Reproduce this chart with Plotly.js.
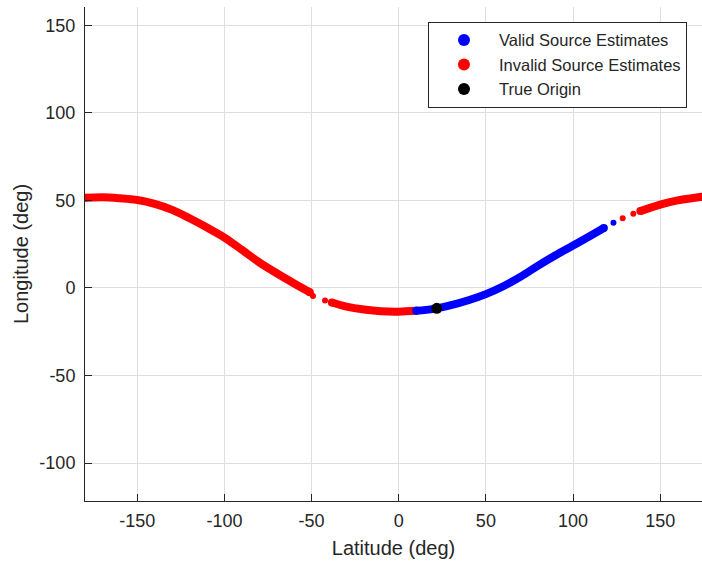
<!DOCTYPE html>
<html>
<head>
<meta charset="utf-8">
<script src="https://cdn.plot.ly/plotly-3.0.1.min.js"></script>
<style>
  html, body { margin: 0; padding: 0; background: #ffffff; }
  #chart { width: 702px; height: 563px; }
</style>
</head>
<body>
<div id="chart"></div>
<script>
// Dense invalid estimates, western branch (lat, lon in deg)
const redWestX = [-180, -170, -160, -150, -140, -130, -120, -110, -100, -90, -80, -70, -60, -51];
const redWestY = [51.5, 51.8, 51.2, 50.2, 48.0, 44.6, 39.8, 34.5, 28.8, 21.8, 14.6, 8.4, 2.6, -2.4];
// Dense invalid estimates, central branch
const redMidX = [-38.4, -30, -20, -10, 0, 10];
const redMidY = [-8.3, -10.6, -12.3, -13.3, -13.5, -13.0];
// Dense valid estimates
const blueX = [10, 20, 30, 40, 50, 60, 70, 80, 90, 100, 110, 117.7];
const blueY = [-13.0, -11.9, -9.8, -7.0, -3.5, 1.0, 6.5, 12.8, 18.7, 24.2, 29.8, 34.2];
// Dense invalid estimates, eastern branch
const redEastX = [138.6, 145, 151, 160, 170, 174];
const redEastY = [43.9, 46.0, 47.9, 50.0, 51.5, 52.1];
// Sparse (isolated) estimates
const redSparseX = [-49.2, -42.3, 128.5, 134.6];
const redSparseY = [-4.6, -7.2, 39.8, 42.4];
const blueSparseX = [123.2];
const blueSparseY = [37.3];
// True origin
const originX = [21.8];
const originY = [-11.6];

const xTicks = [-150, -100, -50, 0, 50, 100, 150];
const yTicks = [-100, -50, 0, 50, 100, 150];

const BLUE = '#0000ff', RED = '#ff0000';
const FONT = 'Liberation Sans, Arial, Helvetica, sans-serif';
const INK = '#262626';

function denseTrace(x, y, color) {
  // round caps only at the two ends of each dense run
  const sizes = x.map((_, i) => (i === 0 || i === x.length - 1) ? 8 : 0);
  return {
    x: x, y: y, type: 'scatter', mode: 'lines+markers',
    line: { color: color, width: 8, shape: 'spline', smoothing: 1 },
    marker: { color: color, size: sizes, opacity: 1, line: { width: 0 } },
    showlegend: false, hoverinfo: 'skip'
  };
}

const traces = [
  denseTrace(redWestX, redWestY, RED),
  denseTrace(redMidX, redMidY, RED),
  denseTrace(redEastX, redEastY, RED),
  denseTrace(blueX, blueY, BLUE),
  {
    x: blueSparseX, y: blueSparseY, type: 'scatter', mode: 'markers',
    marker: { color: BLUE, size: 6, line: { width: 0 } }, name: 'Valid Source Estimates'
  },
  {
    x: redSparseX, y: redSparseY, type: 'scatter', mode: 'markers',
    marker: { color: RED, size: 6, line: { width: 0 } }, name: 'Invalid Source Estimates'
  },
  {
    x: originX, y: originY, type: 'scatter', mode: 'markers',
    marker: { color: '#000000', size: 11, line: { width: 0 } }, name: 'True Origin'
  }
];

const axisCommon = {
  showline: true, linecolor: INK, linewidth: 1,
  ticks: 'inside', ticklen: 7, tickwidth: 1, tickcolor: INK,
  showgrid: true, gridcolor: '#dedede', gridwidth: 1,
  zeroline: false, mirror: false,
  tickfont: { family: FONT, size: 18, color: INK },
  tickmode: 'array'
};

const layout = {
  width: 702, height: 563,
  margin: { l: 85, r: 0, t: 7, b: 62, pad: 0 },
  paper_bgcolor: '#ffffff', plot_bgcolor: '#ffffff',
  font: { family: FONT, color: INK },
  xaxis: Object.assign({}, axisCommon, {
    range: [-180, 174], tickvals: xTicks, ticktext: xTicks.map(String),
    ticklabelstandoff: 3,
    title: { text: 'Latitude (deg)', font: { family: FONT, size: 20, color: INK }, standoff: 11 }
  }),
  yaxis: Object.assign({}, axisCommon, {
    range: [-121.6, 160.4], tickvals: yTicks, ticktext: yTicks.map(String),
    ticklabelstandoff: 5,
    title: { text: 'Longitude (deg)', font: { family: FONT, size: 20, color: INK }, standoff: 5 }
  }),
  legend: {
    x: 0.5559, y: 0.9700, xanchor: 'left', yanchor: 'top',
    bgcolor: '#ffffff', bordercolor: INK, borderwidth: 1,
    font: { family: FONT, size: 16.5, color: INK },
    itemsizing: 'constant', itemwidth: 60, traceorder: 'normal'
  },
  showlegend: true
};

Plotly.newPlot('chart', traces, layout, { staticPlot: true, displayModeBar: false });
</script>
</body>
</html>
